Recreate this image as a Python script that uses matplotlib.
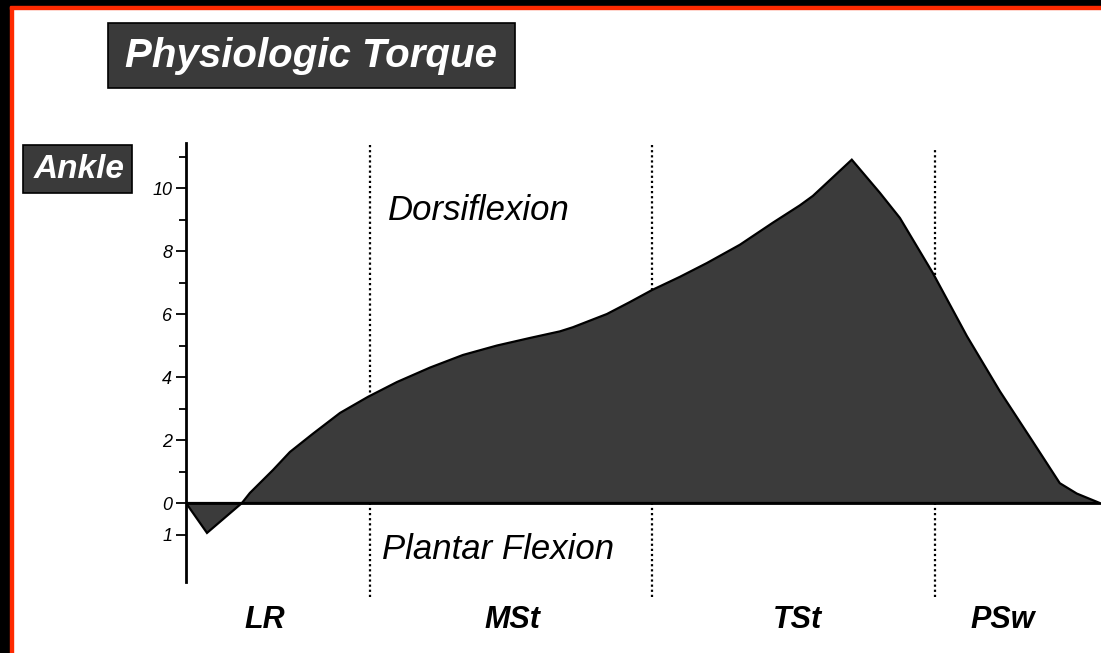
import matplotlib
matplotlib.use('Agg')
import matplotlib.pyplot as plt
from matplotlib import font_manager
from matplotlib.patches import Rectangle
from matplotlib.ticker import FixedLocator

# Ankle torque over the stance phase (% gait cycle)
gait_pct = [0.00, 1.37, 3.65, 4.17, 5.68, 6.78, 8.28, 10.05, 11.87, 13.76,
            15.92, 18.07, 20.29, 22.44, 24.40, 25.24, 27.46, 28.96, 30.40,
            32.22, 33.99, 36.14, 38.29, 40.05, 40.90, 43.44, 45.27, 46.58,
            48.73, 50.95, 53.10, 55.25, 57.01, 58.12, 59.62]
torque = [0.0, -0.95, 0.0, 0.32, 1.05, 1.62, 2.2, 2.86, 3.37, 3.84,
          4.3, 4.7, 5.0, 5.24, 5.45, 5.58, 6.0, 6.38, 6.76,
          7.18, 7.62, 8.2, 8.9, 9.45, 9.75, 10.9, 9.85, 9.05,
          7.3, 5.3, 3.55, 1.95, 0.63, 0.3, 0.0]

phase_bounds = [12.0, 30.4, 48.9]
phase_names = ['LR', 'MSt', 'TSt', 'PSw']
phase_centers = [5.15, 21.3, 39.9, 53.3]

major_ticks = [10, 8, 6, 4, 2, 0, -1]
major_labels = ['10', '8', '6', '4', '2', '0', '1']
minor_ticks = [11, 9, 7, 5, 3, 1]


def pick_font(names):
    for n in names:
        try:
            font_manager.findfont(n, fallback_to_default=False)
            return n
        except Exception:
            pass
    return 'DejaVu Sans'


sans = pick_font(['Liberation Sans', 'DejaVu Sans'])

W, H = 1101, 653
fig = plt.figure(figsize=(W / 100, H / 100), dpi=100)
fig.patch.set_facecolor('white')

# scan border: black band + red line on left and top
fig.patches.append(Rectangle((0, 0), 10 / W, 1, transform=fig.transFigure, color='black', zorder=0))
fig.patches.append(Rectangle((10 / W, 0), 2.5 / W, 1 - 6 / H, transform=fig.transFigure, color='#ff2a00', zorder=0))
fig.patches.append(Rectangle((0, 1 - 6 / H), 1, 6 / H, transform=fig.transFigure, color='black', zorder=0))
fig.patches.append(Rectangle((10 / W, 1 - 8.5 / H), 1, 2.5 / H, transform=fig.transFigure, color='#ff2a00', zorder=0))

ax = fig.add_axes([186 / W, 1 - 598 / H, (W - 186) / W, (598 - 143) / H])
ax.set_xlim(0, 59.7)
ax.set_ylim(-3.016, 11.43)
ax.patch.set_alpha(0)

for s in ['top', 'right', 'bottom']:
    ax.spines[s].set_visible(False)
ax.spines['left'].set_linewidth(2)
ax.spines['left'].set_bounds(-2.5, 11.43)
ax.set_xticks([])
ax.yaxis.set_major_locator(FixedLocator(major_ticks))
ax.set_yticklabels(major_labels)
ax.yaxis.set_minor_locator(FixedLocator(minor_ticks))
ax.tick_params(axis='y', which='major', length=7, width=1.3, pad=3,
               labelsize=13)
ax.tick_params(axis='y', which='minor', length=5, width=1.3)
for lab in ax.get_yticklabels():
    lab.set_fontstyle('italic')
    lab.set_family(sans)

# phase dividers
tops = [11.4, 11.4, 11.2]
for xb, top in zip(phase_bounds, tops):
    ax.vlines(xb, -3.0, top, colors='black', linestyles=(0, (1, 1.3)), linewidth=1.6, zorder=1)

ax.fill(gait_pct, torque, facecolor='#3b3b3b', edgecolor='black', linewidth=1.6, zorder=2)
ax.axhline(0, color='black', linewidth=2, zorder=3)

ax.text(13.18, 9.3, 'Dorsiflexion', fontsize=25, style='italic', family=sans,
        ha='left', va='center')
ax.text(12.79, -1.49, 'Plantar Flexion', fontsize=25, style='italic', family=sans,
        ha='left', va='center')

for name, xc in zip(phase_names, phase_centers):
    ax.text(xc, -3.71, name, fontsize=22, style='italic', weight='bold', family=sans,
            ha='center', va='center', clip_on=False)

# labelled dark boxes
fig.patches.append(Rectangle((108 / W, 1 - 88 / H), (515 - 108) / W, (88 - 23) / H,
                             transform=fig.transFigure, facecolor='#3a3a3a',
                             edgecolor='black', linewidth=1.2, zorder=1))
fig.text(311 / W, 1 - 56 / H, 'Physiologic Torque', color='white', fontsize=29,
         style='italic', weight='bold', family=sans, ha='center', va='center', zorder=2)

fig.patches.append(Rectangle((23 / W, 1 - 193 / H), (132 - 23) / W, (193 - 145) / H,
                             transform=fig.transFigure, facecolor='#3a3a3a',
                             edgecolor='black', linewidth=1.2, zorder=1))
fig.text(79 / W, 1 - 169 / H, 'Ankle', color='white', fontsize=24, weight='bold',
         style='italic', family=sans, ha='center', va='center', zorder=2)

fig.savefig('out.png', dpi=100)
